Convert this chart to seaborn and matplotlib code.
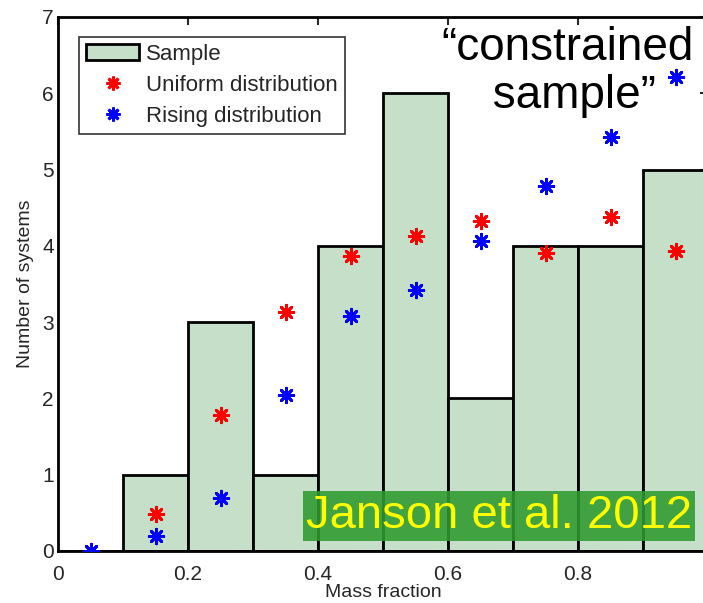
import numpy as np
import pandas as pd
import seaborn as sns
import matplotlib
matplotlib.use("Agg")
import matplotlib.pyplot as plt
from matplotlib.patches import Patch
from matplotlib.lines import Line2D

# ---- data ----
bin_edges = [0.0, 0.1, 0.2, 0.3, 0.4, 0.5, 0.6, 0.7, 0.8, 0.9, 1.0]
bin_centers = [0.05, 0.15, 0.25, 0.35, 0.45, 0.55, 0.65, 0.75, 0.85, 0.95]
sample_counts = [0, 1, 3, 1, 4, 6, 2, 4, 4, 5]
uniform_vals = [0.0, 0.48, 1.78, 3.13, 3.87, 4.13, 4.33, 3.90, 4.38, 3.93]
rising_vals = [0.0, 0.20, 0.70, 2.05, 3.08, 3.42, 4.07, 4.78, 5.43, 6.22]
x_ticks = [0, 0.2, 0.4, 0.6, 0.8]
x_ticklabels = ["0", "0.2", "0.4", "0.6", "0.8"]
y_ticks = [0, 1, 2, 3, 4, 5, 6, 7]

sns.set_style("white")
plt.rcParams["font.family"] = ["Liberation Sans", "DejaVu Sans"]

W, H = 703, 603
fig = plt.figure(figsize=(W / 100, H / 100), dpi=100)
left, right, bottom, top = 58, 708, 551, 17
ax = fig.add_axes([left / W, (H - bottom) / H, (right - left) / W, (bottom - top) / H])

bar_color = "#c6dfc9"
df = pd.DataFrame({"x": bin_centers, "w": sample_counts})
sns.histplot(data=df, x="x", weights="w", bins=bin_edges, ax=ax,
             color=bar_color, edgecolor="black", linewidth=2.0, alpha=1.0)

ast = (8, 2, 0)
sns.scatterplot(x=bin_centers, y=uniform_vals, ax=ax, marker=ast, s=110,
                color="red", edgecolor="red", linewidth=2.0, zorder=5, legend=False)
sns.scatterplot(x=bin_centers, y=rising_vals, ax=ax, marker=ast, s=110,
                color="blue", edgecolor="blue", linewidth=2.0, zorder=6, legend=False)

ax.set_xlim(0, 1.0)
ax.set_ylim(0, 7)
ax.set_xticks(x_ticks)
ax.set_xticklabels(x_ticklabels)
ax.set_yticks(y_ticks)
ax.tick_params(direction="in", top=True, right=True, length=6, width=1.5,
               labelsize=15, pad=3)
ax.tick_params(axis="x", pad=10)
for s in ax.spines.values():
    s.set_linewidth(2.0)
    s.set_color("black")
ax.set_xlabel("Mass fraction", fontsize=14, labelpad=0)
ax.set_ylabel("Number of systems", fontsize=14, labelpad=6)

handles = [
    Patch(facecolor=bar_color, edgecolor="black", linewidth=2.0, label="Sample"),
    Line2D([], [], linestyle="none", marker=ast, markersize=10, markeredgewidth=2,
           color="red", label="Uniform distribution"),
    Line2D([], [], linestyle="none", marker=ast, markersize=10, markeredgewidth=2,
           color="blue", label="Rising distribution"),
]
leg = ax.legend(handles=handles, loc="upper left", bbox_to_anchor=(0.033, 0.962),
                fontsize=16, frameon=True, fancybox=False, edgecolor="black",
                handlelength=2.4, handletextpad=0.3, borderpad=0.3,
                labelspacing=0.45, borderaxespad=0.0)
leg.get_frame().set_linewidth(1.2)

fig.text(568 / W, 1 - 72 / H, "\u201cconstrained\n sample\u201d", fontsize=33,
         ha="center", va="center", linespacing=1.1, color="black")

fig.text(499 / W, 1 - 516 / H, "Janson et al. 2012", fontsize=34, color="#ffff00",
         ha="center", va="center",
         bbox=dict(boxstyle="square,pad=0.07", facecolor="#2f9a2f", alpha=0.88,
                   edgecolor="none"))

fig.savefig("out.png", dpi=100)
